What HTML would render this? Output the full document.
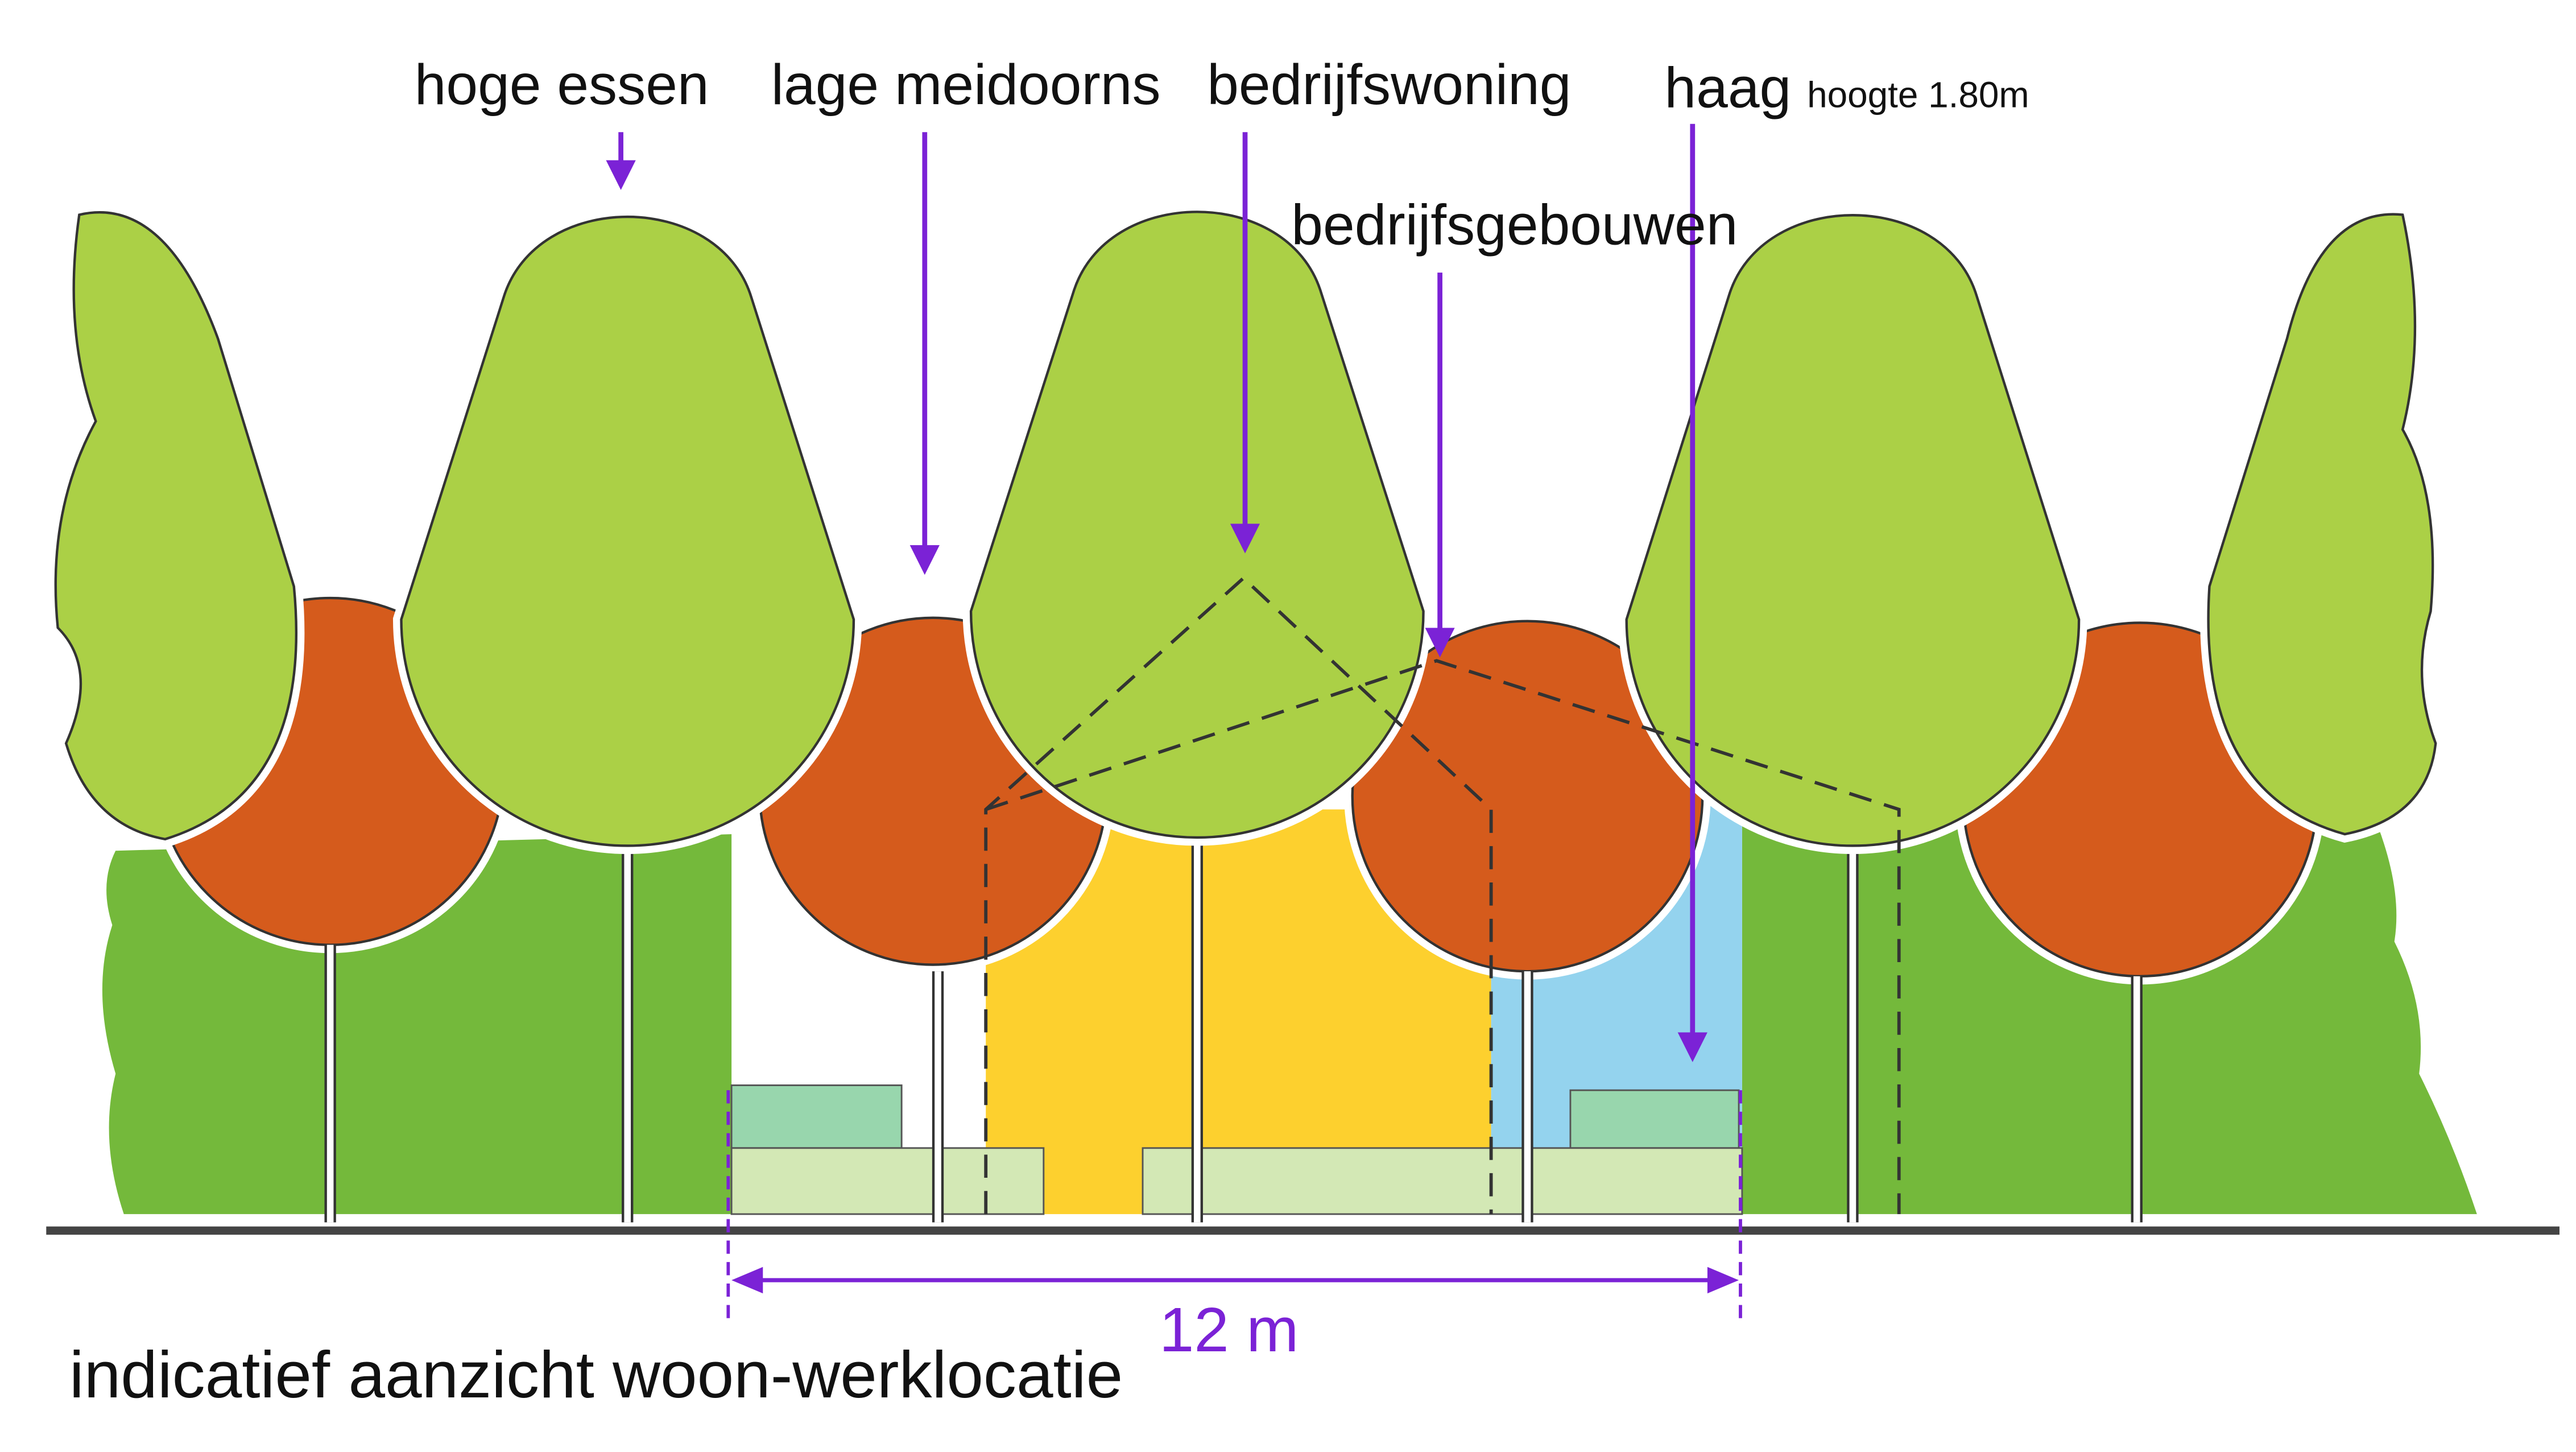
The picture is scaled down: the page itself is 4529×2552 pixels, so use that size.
<!DOCTYPE html>
<html><head><meta charset="utf-8"><style>
html,body{margin:0;padding:0;background:#fff;}
svg{display:block;}
text{font-family:"Liberation Sans",sans-serif;}
</style></head><body>
<svg width="4529" height="2552" viewBox="0 0 1560 879" xmlns="http://www.w3.org/2000/svg">
<defs>
<marker id="ah" markerWidth="6" markerHeight="6" refX="5" refY="3" orient="auto" markerUnits="strokeWidth">
<path d="M0,0 L6,3 L0,6 Z" fill="#7b22d6"/></marker>
</defs>
<rect width="1560" height="879" fill="#fff"/>
<path d="M70,515 L443,505 L443,735 L75,735 Q60,690 70,650 Q55,600 68,560 Q60,535 70,515 Z" fill="#74b93b"/>
<path d="M1055,500 L1440,500 Q1455,540 1450,570 Q1470,610 1465,650 Q1485,690 1500,735 L1055,735 Z" fill="#74b93b"/>
<rect x="597" y="490" width="306" height="245" fill="#fdd02e"/>
<rect x="903" y="485" width="152" height="215" fill="#94d3ee"/>
<rect x="443" y="657" width="103" height="38" fill="#98d6ad" stroke="#555" stroke-width="1"/>
<rect x="951" y="660" width="102" height="35" fill="#98d6ad" stroke="#555" stroke-width="1"/>
<rect x="443" y="695" width="189" height="40" fill="#d3e8b5" stroke="#555" stroke-width="1"/>
<rect x="692" y="695" width="363" height="40" fill="#d3e8b5" stroke="#555" stroke-width="1"/>
<g stroke="#fff" stroke-width="10" fill="none">
<circle cx="200" cy="467" r="105"/><circle cx="565" cy="479" r="105"/><circle cx="925" cy="482" r="106"/><circle cx="1296" cy="484" r="107"/>
</g>
<g fill="#d55b1c" stroke="#333" stroke-width="1.5">
<circle cx="200" cy="467" r="105"/><circle cx="565" cy="479" r="105"/><circle cx="925" cy="482" r="106"/><circle cx="1296" cy="484" r="107"/>
</g>
<g stroke="#333" stroke-width="7"><line x1="200" y1="572" x2="200" y2="740"/><line x1="568" y1="588" x2="568" y2="740"/><line x1="925" y1="588" x2="925" y2="740"/><line x1="1294" y1="591" x2="1294" y2="740"/>
<line x1="380" y1="510" x2="380" y2="740"/><line x1="725" y1="505" x2="725" y2="740"/><line x1="1122" y1="510" x2="1122" y2="740"/></g>
<g stroke="#fff" stroke-width="4"><line x1="200" y1="572" x2="200" y2="740"/><line x1="568" y1="588" x2="568" y2="740"/><line x1="925" y1="588" x2="925" y2="740"/><line x1="1294" y1="591" x2="1294" y2="740"/>
<line x1="380" y1="510" x2="380" y2="740"/><line x1="725" y1="505" x2="725" y2="740"/><line x1="1122" y1="510" x2="1122" y2="740"/></g>
<g fill="#abd046" stroke="#333" stroke-width="1.5">
<path d="M48,130 Q100,118 132,205 L178,355 Q190,480 100,508 Q55,500 40,450 Q60,405 35,380 Q28,310 58,255 Q38,200 48,130 Z" stroke="#fff" stroke-width="10"/>
<path d="M48,130 Q100,118 132,205 L178,355 Q190,480 100,508 Q55,500 40,450 Q60,405 35,380 Q28,310 58,255 Q38,200 48,130 Z"/>
<path d="M1455,130 Q1405,125 1385,205 L1338,355 Q1330,480 1420,505 Q1470,495 1475,450 Q1460,410 1472,370 Q1478,300 1455,260 Q1470,200 1455,130 Z" stroke="#fff" stroke-width="10"/>
<path d="M1455,130 Q1405,125 1385,205 L1338,355 Q1330,480 1420,505 Q1470,495 1475,450 Q1460,410 1472,370 Q1478,300 1455,260 Q1470,200 1455,130 Z"/>
<path d="M243,375 A137,137 0 0 0 517,375 L455,180 C435,115 325,115 305,180 Z" stroke="#fff" stroke-width="10"/>
<path d="M243,375 A137,137 0 0 0 517,375 L455,180 C435,115 325,115 305,180 Z"/>
<path d="M588,370 A137,137 0 0 0 862,370 L800,177 C780,112 670,112 650,177 Z" stroke="#fff" stroke-width="10"/>
<path d="M588,370 A137,137 0 0 0 862,370 L800,177 C780,112 670,112 650,177 Z"/>
<path d="M985,375 A137,137 0 0 0 1259,375 L1197,179 C1177,114 1067,114 1047,179 Z" stroke="#fff" stroke-width="10"/>
<path d="M985,375 A137,137 0 0 0 1259,375 L1197,179 C1177,114 1067,114 1047,179 Z"/>
</g>
<line x1="28" y1="745" x2="1550" y2="745" stroke="#444" stroke-width="5"/>
<g stroke="#333" stroke-width="2" fill="none" stroke-dasharray="14,8">
<path d="M597,735 L597,490 L753,350 L903,490 L903,735"/>
<path d="M597,490 L870,400 L1150,490 L1150,735"/>
</g>
<g stroke="#7b22d6" stroke-width="3" fill="none">
<line x1="376" y1="80" x2="376" y2="112" marker-end="url(#ah)"/>
<line x1="560" y1="80" x2="560" y2="345" marker-end="url(#ah)"/>
<line x1="754" y1="80" x2="754" y2="332" marker-end="url(#ah)"/>
<line x1="872" y1="165" x2="872" y2="395" marker-end="url(#ah)"/>
<line x1="1025" y1="75" x2="1025" y2="640" marker-end="url(#ah)"/>
<line x1="448" y1="775" x2="1048" y2="775" stroke-width="2.5"/>
<line x1="441" y1="660" x2="441" y2="800" stroke-dasharray="8,5" stroke-width="2"/>
<line x1="1054" y1="660" x2="1054" y2="800" stroke-dasharray="8,5" stroke-width="2"/>
</g>
<path d="M443,775 L462,767 L462,783 Z" fill="#7b22d6"/>
<path d="M1053,775 L1034,767 L1034,783 Z" fill="#7b22d6"/>
<g font-size="34.5" fill="#111">
<text x="251" y="63">hoge essen</text>
<text x="467" y="63">lage meidoorns</text>
<text x="731" y="63">bedrijfswoning</text>
<text x="782" y="148">bedrijfsgebouwen</text>
<text x="1008" y="65">haag <tspan font-size="22">hoogte 1.80m</tspan></text>
<text x="42" y="846" font-size="40">indicatief aanzicht woon-werklocatie</text>
</g>
<text x="702" y="818" font-size="38" fill="#7b22d6">12 m</text>
</svg>
</body></html>
